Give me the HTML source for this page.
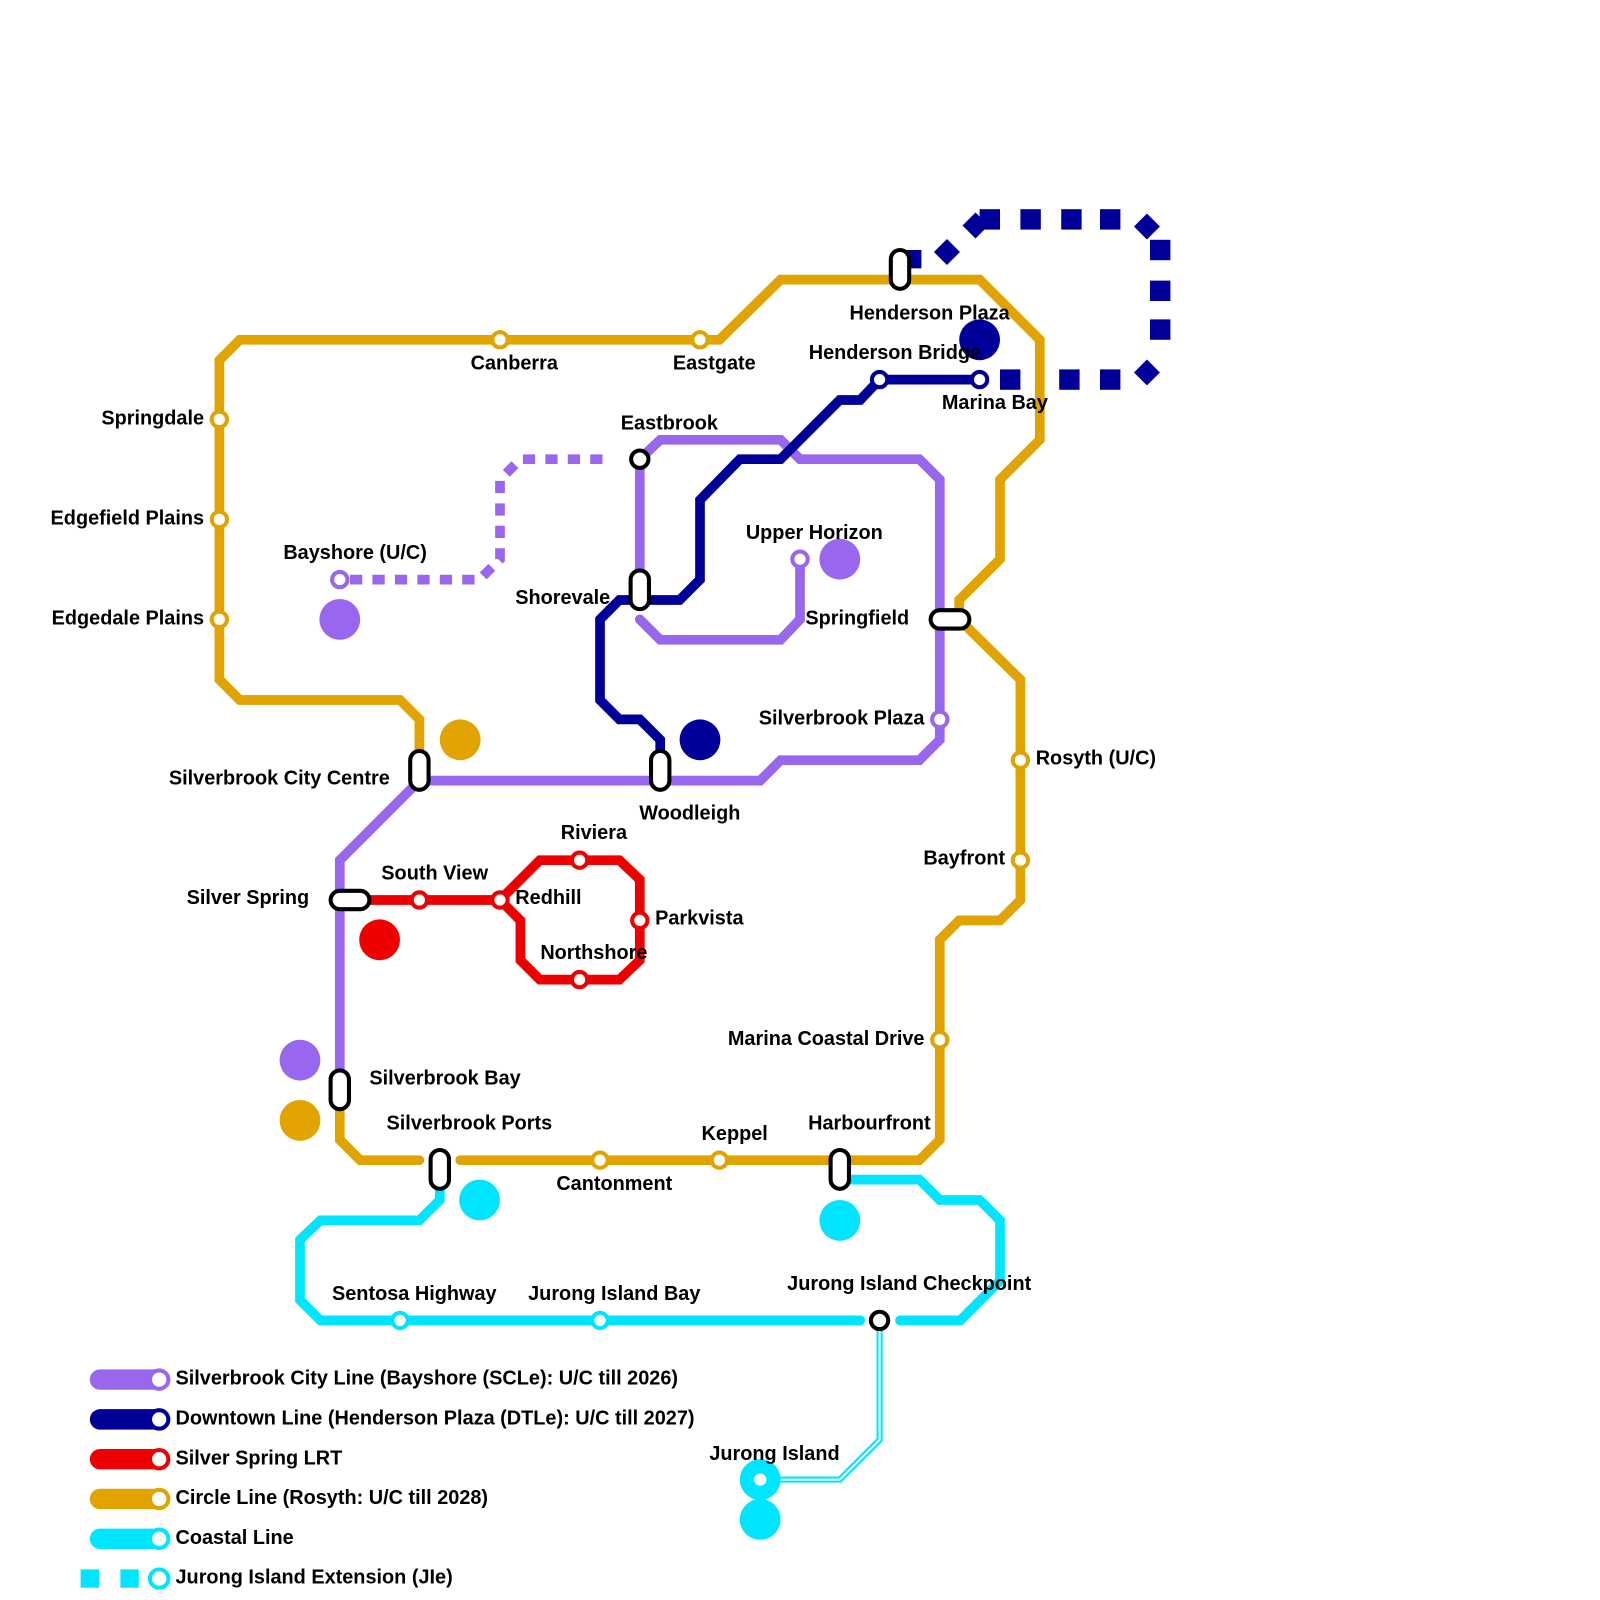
<!DOCTYPE html>
<html><head><meta charset="utf-8"><style>
html,body{margin:0;padding:0;background:#fff}
svg{display:block}
text{font-family:"Liberation Sans",sans-serif;font-weight:bold;font-size:19.5px;fill:#000}
</style></head><body>
<svg width="1600" height="1600" viewBox="0 0 1568 1568" xmlns="http://www.w3.org/2000/svg">
<g fill="none" stroke-width="9.5" stroke-linejoin="miter" stroke-linecap="round">
<path stroke="#E0A300" d="M411,755 L411,705 L392,686 L235,686 L215,666 L215,353 L235,333 L705,333 L765,274 L960,274 L1019,333 L1019,431 L980,470 L980,548 L940,588 L940,607 L1000,666 L1000,882 L980,902 L940,902 L921,921 L921,1117 L901,1137 L451,1137"/>
<path stroke="#E0A300" d="M411,1137 L353,1137 L333,1117 L333,1068"/>
<path stroke="#9966EE" d="M333,1068 L333,843 L411,765 L745,765 L765,745 L901,745 L921,725 L921,470 L901,450 L784,450 L765,431 L647,431 L627,450 L627,578"/>
<path stroke="#9966EE" d="M627,607 L647,627 L765,627 L784,607 L784,548"/>
<path stroke="#9966EE" stroke-dasharray="12,10" stroke-linecap="butt" d="M343,568 L470,568 L490,548 L490,470 L510,450 L600,450"/>
<path stroke="#000099" d="M647,755 L647,725 L627,705 L607,705 L588,686 L588,607 L607,588 L666,588 L686,568 L686,490 L725,450 L765,450 L823,392 L843,392 L862,372 L960,372"/>
<path stroke="#EE0000" d="M343,882 L490,882 L510,902 L510,941 L529,960 L607,960 L627,941 L627,862 L607,843 L529,843 L490,882"/>
<path stroke="#00E5FF" d="M431,1147 L431,1176 L411,1196 L314,1196 L294,1215 L294,1274 L314,1294 L843,1294"/>
<path stroke="#00E5FF" d="M882,1294 L941,1294 L980,1255 L980,1196 L960,1176 L921,1176 L901,1156 L833,1156"/>
<path stroke="#00E5FF" stroke-width="6" stroke-linecap="butt" d="M862,1300 L862,1411 L823,1450 L745,1450"/>
<path stroke="#fff" stroke-width="2" stroke-linecap="butt" d="M862,1300 L862,1411 L823,1450 L745,1450"/>
<path stroke="#9966EE" stroke-width="20" d="M98,1352 L156,1352"/>
<path stroke="#000099" stroke-width="20" d="M98,1391 L156,1391"/>
<path stroke="#EE0000" stroke-width="20" d="M98,1430 L156,1430"/>
<path stroke="#E0A300" stroke-width="20" d="M98,1469 L156,1469"/>
<path stroke="#00E5FF" stroke-width="20" d="M98,1508 L156,1508"/>
</g>
<g fill="#000099">
<rect x="885" y="245" width="18" height="18"/>
<rect x="919" y="238" width="18" height="18" transform="rotate(45 928 247)"/>
<rect x="947" y="212" width="18" height="18" transform="rotate(45 956 221)"/>
<rect x="960" y="205" width="20" height="20"/>
<rect x="1000" y="205" width="20" height="20"/>
<rect x="1040" y="205" width="20" height="20"/>
<rect x="1078" y="205" width="20" height="20"/>
<rect x="1115" y="213" width="18" height="18" transform="rotate(45 1124 222)"/>
<rect x="1127" y="235" width="20" height="20"/>
<rect x="1127" y="275" width="20" height="20"/>
<rect x="1127" y="313" width="20" height="20"/>
<rect x="1115" y="356" width="18" height="18" transform="rotate(45 1124 365)"/>
<rect x="980" y="362" width="20" height="20"/>
<rect x="1038" y="362" width="20" height="20"/>
<rect x="1078" y="362" width="20" height="20"/>
<circle cx="960" cy="333" r="20"/>
<circle cx="686" cy="725" r="20"/>
</g>
<circle cx="333" cy="607" r="20" fill="#9966EE"/>
<circle cx="823" cy="548" r="20" fill="#9966EE"/>
<circle cx="294" cy="1039" r="20" fill="#9966EE"/>
<circle cx="451" cy="725" r="20" fill="#E0A300"/>
<circle cx="294" cy="1098" r="20" fill="#E0A300"/>
<circle cx="372" cy="921" r="20" fill="#EE0000"/>
<circle cx="470" cy="1176" r="20" fill="#00E5FF"/>
<circle cx="823" cy="1196" r="20" fill="#00E5FF"/>
<circle cx="745" cy="1489" r="20" fill="#00E5FF"/>
<circle cx="745" cy="1450" r="20" fill="#00E5FF"/>
<circle cx="745" cy="1450" r="6" fill="#fff"/>
<rect x="79" y="1538" width="18" height="18" fill="#00E5FF"/>
<rect x="118" y="1538" width="18" height="18" fill="#00E5FF"/>
<g fill="#fff" stroke-width="4">
<g stroke="#E0A300">
<circle cx="215" cy="411" r="7.5"/><circle cx="215" cy="509" r="7.5"/><circle cx="215" cy="607" r="7.5"/>
<circle cx="490" cy="333" r="7.5"/><circle cx="686" cy="333" r="7.5"/>
<circle cx="1000" cy="745" r="7.5"/><circle cx="1000" cy="843" r="7.5"/>
<circle cx="921" cy="1019" r="7.5"/><circle cx="588" cy="1137" r="7.5"/><circle cx="705" cy="1137" r="7.5"/>
<circle cx="156" cy="1469" r="9"/>
</g>
<g stroke="#9966EE">
<circle cx="333" cy="568" r="7.5"/><circle cx="784" cy="548" r="7.5"/><circle cx="921" cy="705" r="7.5"/>
<circle cx="156" cy="1352" r="9"/>
</g>
<g stroke="#000099">
<circle cx="862" cy="372" r="7.5"/><circle cx="960" cy="372" r="7.5"/><circle cx="156" cy="1391" r="9"/>
</g>
<g stroke="#EE0000">
<circle cx="411" cy="882" r="7.5"/><circle cx="490" cy="882" r="7.5"/><circle cx="568" cy="843" r="7.5"/>
<circle cx="627" cy="902" r="7.5"/><circle cx="568" cy="960" r="7.5"/><circle cx="156" cy="1430" r="9"/>
</g>
<g stroke="#00E5FF">
<circle cx="392" cy="1294" r="7.5"/><circle cx="588" cy="1294" r="7.5"/><circle cx="156" cy="1508" r="9"/>
<circle cx="156" cy="1547" r="9"/>
</g>
<g stroke="#000">
<circle cx="627" cy="450" r="8.5"/><circle cx="862" cy="1294" r="8.5"/>
<rect x="873" y="245" width="18" height="38" rx="9"/>
<rect x="402" y="736" width="18" height="38" rx="9"/>
<rect x="618" y="559" width="18" height="38" rx="9"/>
<rect x="638" y="736" width="18" height="38" rx="9"/>
<rect x="912" y="598" width="38" height="18" rx="9"/>
<rect x="324" y="873" width="38" height="18" rx="9"/>
<rect x="324" y="1049" width="18" height="38" rx="9"/>
<rect x="422" y="1127" width="18" height="38" rx="9"/>
<rect x="814" y="1127" width="18" height="38" rx="9"/>
</g>
</g>
<text x="200" y="416" text-anchor="end">Springdale</text>
<text x="200" y="514" text-anchor="end">Edgefield Plains</text>
<text x="200" y="612" text-anchor="end">Edgedale Plains</text>
<text x="504" y="362" text-anchor="middle">Canberra</text>
<text x="700" y="362" text-anchor="middle">Eastgate</text>
<text x="911" y="313" text-anchor="middle">Henderson Plaza</text>
<text x="877" y="352" text-anchor="middle">Henderson Bridge</text>
<text x="975" y="401" text-anchor="middle">Marina Bay</text>
<text x="656" y="421" text-anchor="middle">Eastbrook</text>
<text x="348" y="548" text-anchor="middle">Bayshore (U/C)</text>
<text x="798" y="528" text-anchor="middle">Upper Horizon</text>
<text x="598" y="592" text-anchor="end">Shorevale</text>
<text x="891" y="612" text-anchor="end">Springfield</text>
<text x="906" y="710" text-anchor="end">Silverbrook Plaza</text>
<text x="382" y="769" text-anchor="end">Silverbrook City Centre</text>
<text x="676" y="803" text-anchor="middle">Woodleigh</text>
<text x="1015" y="749">Rosyth (U/C)</text>
<text x="985" y="847" text-anchor="end">Bayfront</text>
<text x="582" y="822" text-anchor="middle">Riviera</text>
<text x="426" y="862" text-anchor="middle">South View</text>
<text x="505" y="886">Redhill</text>
<text x="642" y="906">Parkvista</text>
<text x="582" y="940" text-anchor="middle">Northshore</text>
<text x="303" y="886" text-anchor="end">Silver Spring</text>
<text x="906" y="1024" text-anchor="end">Marina Coastal Drive</text>
<text x="362" y="1063">Silverbrook Bay</text>
<text x="460" y="1107" text-anchor="middle">Silverbrook Ports</text>
<text x="720" y="1117" text-anchor="middle">Keppel</text>
<text x="852" y="1107" text-anchor="middle">Harbourfront</text>
<text x="602" y="1166" text-anchor="middle">Cantonment</text>
<text x="406" y="1274" text-anchor="middle">Sentosa Highway</text>
<text x="602" y="1274" text-anchor="middle">Jurong Island Bay</text>
<text x="891" y="1264" text-anchor="middle">Jurong Island Checkpoint</text>
<text x="759" y="1431" text-anchor="middle">Jurong Island</text>
<text x="172" y="1357">Silverbrook City Line (Bayshore (SCLe): U/C till 2026)</text>
<text x="172" y="1396">Downtown Line (Henderson Plaza (DTLe): U/C till 2027)</text>
<text x="172" y="1435">Silver Spring LRT</text>
<text x="172" y="1474">Circle Line (Rosyth: U/C till 2028)</text>
<text x="172" y="1513">Coastal Line</text>
<text x="172" y="1552">Jurong Island Extension (JIe)</text>
</svg>
</body></html>
